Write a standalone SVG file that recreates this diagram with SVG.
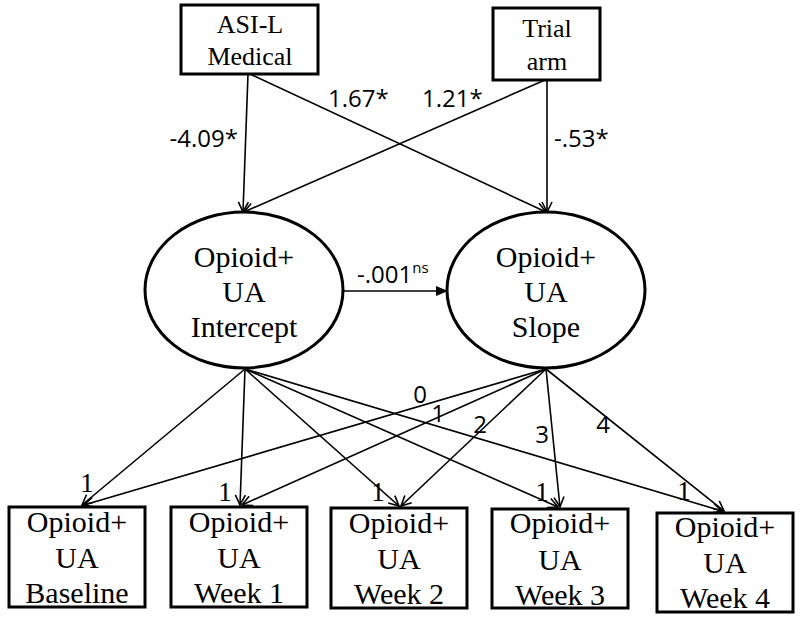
<svg xmlns="http://www.w3.org/2000/svg" width="800" height="620" viewBox="0 0 800 620">
<style>
.box{fill:#fff;stroke:#000;stroke-width:3}
.ell{fill:#fff;stroke:#000;stroke-width:3}
text.t{font-family:"Liberation Serif","Times New Roman",Times,serif;fill:#000;text-anchor:middle}
.tb{font-size:26px}
.tn{font-size:30px}
.lab{font-family:"Open Sans","Liberation Sans",Arial,sans-serif;font-size:24px;fill:#000}
text.one{font-family:"Liberation Serif","Times New Roman",Times,serif;font-size:27px;fill:#000;text-anchor:middle}
.ln{stroke:#000;stroke-width:1.6;fill:none;marker-end:url(#v)}
</style>
<defs>
<marker id="v" viewBox="0 0 12 12" refX="11" refY="6" markerWidth="12" markerHeight="12" markerUnits="userSpaceOnUse" orient="auto">
<path d="M1,1 L11,6 L1,11" fill="none" stroke="#000" stroke-width="1.6"/>
</marker>
<marker id="f" viewBox="0 0 12 12" refX="11" refY="6" markerWidth="12" markerHeight="12" markerUnits="userSpaceOnUse" orient="auto">
<path d="M0,1 L12,6 L0,11 z" fill="#000"/>
</marker>
</defs>
<g id="connectors">
<line class="ln" x1="248" y1="74" x2="243" y2="212"/>
<line class="ln" x1="250" y1="74" x2="546" y2="212"/>
<line class="ln" x1="547" y1="80" x2="547" y2="212"/>
<line class="ln" x1="545" y1="80" x2="244" y2="212"/>
<line x1="343" y1="291" x2="447" y2="291" stroke="#000" stroke-width="1.6" marker-end="url(#f)"/>
<line class="ln" x1="245" y1="369" x2="82" y2="505"/>
<line class="ln" x1="245" y1="369" x2="240" y2="505"/>
<line class="ln" x1="245" y1="369" x2="399" y2="506"/>
<line class="ln" x1="245" y1="369" x2="558" y2="507"/>
<line class="ln" x1="245" y1="369" x2="722" y2="511"/>
<line class="ln" x1="546" y1="369" x2="84" y2="505"/>
<line class="ln" x1="546" y1="369" x2="242" y2="505"/>
<line class="ln" x1="546" y1="369" x2="401" y2="506"/>
<line class="ln" x1="546" y1="369" x2="560" y2="507"/>
<line class="ln" x1="546" y1="369" x2="724" y2="511"/>
<text class="lab" x="238" y="147" text-anchor="end">-4.09*</text>
<text class="lab" x="328" y="107">1.67*</text>
<text class="lab" x="422" y="107">1.21*</text>
<text class="lab" x="554" y="147">-.53*</text>
<text class="lab" x="357" y="283">-.001<tspan font-size="15" dy="-10">ns</tspan></text>
<text class="lab" x="420" y="403" text-anchor="middle">0</text>
<text class="lab" x="438" y="422" text-anchor="middle">1</text>
<text class="lab" x="480" y="433" text-anchor="middle">2</text>
<text class="lab" x="542" y="443" text-anchor="middle">3</text>
<text class="lab" x="603" y="433" text-anchor="middle">4</text>
<text class="one" x="87" y="492">1</text>
<text class="one" x="225" y="501">1</text>
<text class="one" x="378" y="501">1</text>
<text class="one" x="542" y="501">1</text>
<text class="one" x="684" y="500">1</text>
</g>
<g id="asi">
<rect class="box" x="181" y="5" width="137" height="69"/>
<text class="t tb" x="250" y="33">ASI-L</text>
<text class="t tb" x="250" y="65">Medical</text>
</g>
<g id="trial">
<rect class="box" x="493" y="8" width="107" height="72"/>
<text class="t tb" x="547" y="37">Trial</text>
<text class="t tb" x="547" y="70">arm</text>
</g>
<g id="intercept">
<ellipse class="ell" cx="244" cy="290" rx="99" ry="78"/>
<text class="t tn" x="244" y="267">Opioid+</text>
<text class="t tn" x="244" y="302">UA</text>
<text class="t tn" x="244" y="337">Intercept</text>
</g>
<g id="slope">
<ellipse class="ell" cx="546" cy="290" rx="99" ry="78"/>
<text class="t tn" x="546" y="267">Opioid+</text>
<text class="t tn" x="546" y="302">UA</text>
<text class="t tn" x="546" y="337">Slope</text>
</g>
<g id="baseline">
<rect class="box" x="9" y="507" width="136" height="100"/>
<text class="t tn" x="77" y="532">Opioid+</text>
<text class="t tn" x="77" y="568">UA</text>
<text class="t tn" x="77" y="603">Baseline</text>
</g>
<g id="week1">
<rect class="box" x="171" y="507" width="136" height="100"/>
<text class="t tn" x="239" y="532">Opioid+</text>
<text class="t tn" x="239" y="568">UA</text>
<text class="t tn" x="239" y="603">Week 1</text>
</g>
<g id="week2">
<rect class="box" x="331" y="508" width="136" height="100"/>
<text class="t tn" x="399" y="533">Opioid+</text>
<text class="t tn" x="399" y="569">UA</text>
<text class="t tn" x="399" y="604">Week 2</text>
</g>
<g id="week3">
<rect class="box" x="492" y="509" width="136" height="99"/>
<text class="t tn" x="560" y="533">Opioid+</text>
<text class="t tn" x="560" y="570">UA</text>
<text class="t tn" x="560" y="605">Week 3</text>
</g>
<g id="week4">
<rect class="box" x="657" y="513" width="136" height="99"/>
<text class="t tn" x="725" y="537">Opioid+</text>
<text class="t tn" x="725" y="573">UA</text>
<text class="t tn" x="725" y="608">Week 4</text>
</g>
</svg>
